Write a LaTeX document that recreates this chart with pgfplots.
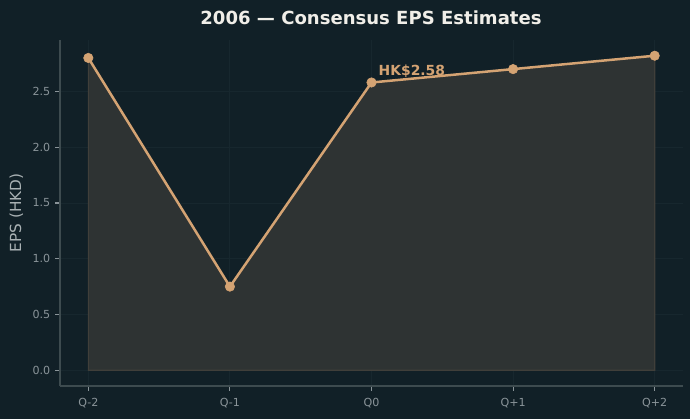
\documentclass[border=0pt]{standalone}
\usepackage{pgfplots}
\pgfplotsset{compat=1.18}
\usepackage{fontspec}
\setmainfont{DejaVu Sans}

\definecolor{bgcol}{HTML}{112027}
\definecolor{fillcol}{HTML}{2E3333}
\definecolor{filledge}{HTML}{403F3A}
\definecolor{linecol}{HTML}{D4A373}
\definecolor{tickcol}{HTML}{8A9499}
\definecolor{spinecol}{HTML}{3D4B4F}
\definecolor{titlecol}{HTML}{F0EEE8}
\definecolor{labelcol}{HTML}{A9B1B3}
\definecolor{gridcol}{HTML}{17272E}

\pgfplotstableread{
x eps
0 2.80
1 0.75
2 2.58
3 2.70
4 2.82
}\epsdata

\begin{document}
\begin{tikzpicture}[x=0.72pt,y=0.72pt]
  \fill[bgcol] (0,0) rectangle (690,419);
  \begin{axis}[
    at={(60*0.72pt,33*0.72pt)}, anchor=south west,
    scale only axis,
    width=623*0.72pt, height=346*0.72pt,
    xmin=-0.2, xmax=4.2,
    ymin=-0.141, ymax=2.961,
    axis x line*=bottom, axis y line*=left,
    axis line style={draw=spinecol, line width=0.8pt, -},
    xtick={0,1,2,3,4},
    xticklabels={Q-2,Q-1,Q0,Q+1,Q+2},
    ytick={0,0.5,1,1.5,2,2.5},
    yticklabel style={/pgf/number format/.cd, fixed, fixed zerofill, precision=1},
    xticklabel style={yshift=-2pt},
    /pgf/number format/assume math mode=true,
    tick align=outside,
    major tick length=3.5pt,
    tick style={draw=tickcol, line width=0.8pt},
    ticklabel style={font=\fontsize{8}{10}\selectfont, text=tickcol},
    grid=major,
    grid style={draw=gridcol, line width=0.6pt},
    ylabel={EPS (HKD)},
    ylabel style={font=\fontsize{11}{13}\selectfont, text=labelcol},
    clip=false,
  ]
    \addplot[fill=fillcol, draw=filledge, line width=0.8pt] table[x=x,y=eps] {\epsdata} \closedcycle;
    \addplot[color=linecol, line width=1.8pt, mark=*, mark size=3.4pt,
             mark options={solid, fill=linecol, draw=linecol, line width=0.4pt}] table[x=x,y=eps] {\epsdata};
    \node[anchor=base west, inner sep=0pt, text=linecol,
          font=\fontsize{10}{12}\selectfont\bfseries]
      at (axis cs:2,2.58) [xshift=5pt, yshift=5pt] {HK\$2.58};
  \end{axis}
  \node[anchor=base, text=titlecol, font=\fontsize{13}{15}\selectfont\bfseries]
    at (371,394) {2006 — Consensus EPS Estimates};
  \pgfresetboundingbox
  \path[use as bounding box] (0,0) rectangle (690,419);
\end{tikzpicture}
\end{document}
